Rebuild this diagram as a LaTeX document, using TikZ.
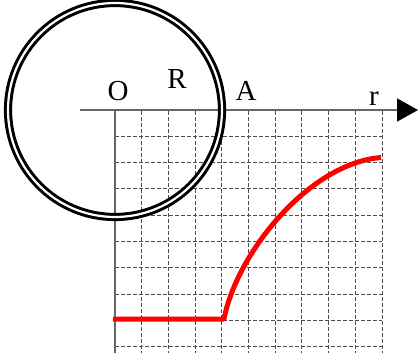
\documentclass[tikz,border=0pt]{standalone}
\usepackage{fontspec}
\setmainfont{Liberation Serif}
\usetikzlibrary{arrows.meta}
\begin{document}
\begin{tikzpicture}[x=1pt,y=-1pt,
  gridline/.style={line width=0.9pt, black!70, dash pattern=on 3.5pt off 2.5pt},
  axisline/.style={line width=1.6pt, black!60},
  lbl/.style={font=\fontsize{29}{29}\selectfont, inner sep=0pt, anchor=base},
  ring/.style={draw=black, line width=3pt, double=white, double distance=2.2pt},
  curve/.style={draw=red, line width=5pt, line join=round}]
\useasboundingbox (0,0) rectangle (419,353);
\fill[white] (0,0) rectangle (419,353);
% grid
\foreach \i in {1,...,10} \draw[gridline] (115+26.7*\i,111) -- (115+26.7*\i,353);
\foreach \j in {1,...,9} \draw[gridline] (115,110+26.3*\j) -- (382,110+26.3*\j);
% axes
\coordinate (O) at (115,110);
\coordinate (xs) at (80,110);
\coordinate (xe) at (418,110);
\coordinate (yb) at (115,353);
\draw[axisline, -{Triangle[length=21pt,width=23pt,black]}] (xs) -- (xe);
\draw[axisline] (O) -- (yb);
% circle
\draw[ring] (O) circle[radius=107];
% curve
\coordinate (c0) at (113,319);
\coordinate (c1) at (224,319);
\coordinate (c2) at (381,157.5);
\draw[curve] (c0) -- (c1) .. controls (237,252) and (310,163) .. (c2);
% labels
\node[lbl] (lO) at (118,100) {O};
\node[lbl] (lR) at (177,88) {R};
\node[lbl] (lA) at (246,100) {A};
\node[lbl] (lr) at (374,105) {r};
\end{tikzpicture}
\end{document}
